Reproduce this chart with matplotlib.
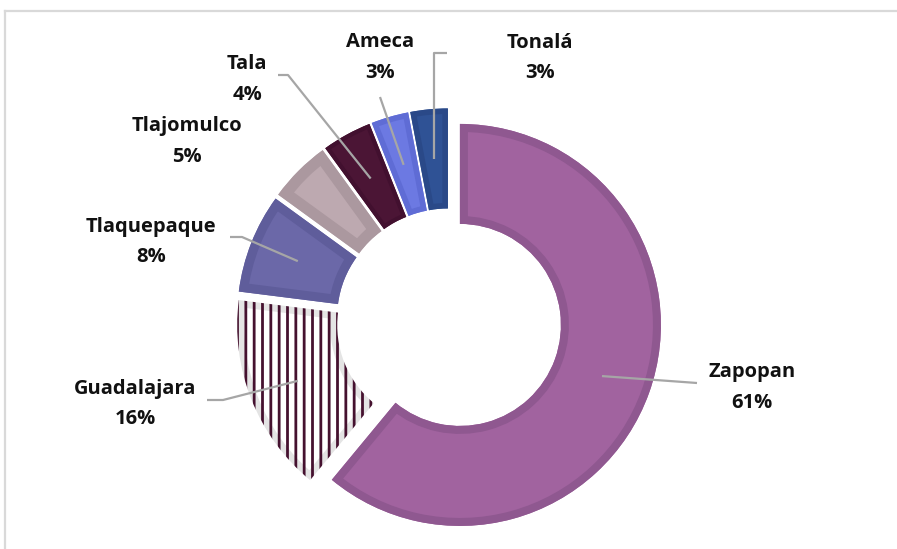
import matplotlib
matplotlib.use("Agg")
import matplotlib.pyplot as plt
from matplotlib.patches import Wedge
import numpy as np

# Share of each municipality (percent), clockwise from twelve o'clock
municipios = ["Zapopan", "Guadalajara", "Tlaquepaque", "Tlajomulco", "Tala", "Ameca", "Tonalá"]
porcentajes = [61, 16, 8, 5, 4, 3, 3]

# Fill and (darker) rim colour for every slice
relleno = ["#A1639F", "#FFFFFF", "#6B68A8", "#BDA9B0", "#4B1535", "#6C79E2", "#2F5295"]
borde = ["#8F5890", "#E4E4E4", "#5F5D9B", "#AB989F", "#42102F", "#5F6CD5", "#2A4988"]
rim_pt = [11.5, 10.0, 13.0, 16.0, 6.0, 8.0, 8.0]

# Label anchors (pixel x, baseline y of the name)
etiqueta_xy = [(752, 377), (135, 394), (151, 232), (187, 131), (247, 69), (380, 47), (540, 48)]

W, H = 897, 549
plt.rcParams["hatch.linewidth"] = 2.0
plt.rcParams["font.family"] = ["Open Sans", "DejaVu Sans"]

fig = plt.figure(figsize=(W / 100, H / 100), dpi=100)
ax = fig.add_axes([0, 0, 1, 1])

centro = (449, H - 321)
R = 201
ancho = 100
separacion = 11.6

wedges, _ = ax.pie(
    porcentajes, radius=R, center=centro, startangle=90, counterclock=False,
    explode=[separacion] * len(porcentajes), colors=relleno,
    wedgeprops=dict(width=ancho, linewidth=0),
)

for w, c_borde, lw, nombre in zip(wedges, borde, rim_pt, municipios):
    rim = Wedge(w.center, w.r, w.theta1, w.theta2, width=w.width,
                facecolor="none", edgecolor=c_borde, linewidth=lw, zorder=3)
    ax.add_patch(rim)
    rim.set_clip_path(w)
    if nombre == "Guadalajara":
        rayas = Wedge(w.center, w.r, w.theta1, w.theta2, width=w.width,
                      facecolor="none", edgecolor="#45112F", linewidth=0,
                      hatch="||", zorder=4)
        ax.add_patch(rayas)

ax.set_xlim(0, W)
ax.set_ylim(0, H)
ax.set_aspect("equal")
ax.axis("off")

# Leader lines from the middle of each ring segment to its label
gris = "#A6A6A6"
r_med = R - ancho / 2


def punto_medio(w):
    ang = np.deg2rad((w.theta1 + w.theta2) / 2)
    return (w.center[0] + r_med * np.cos(ang), w.center[1] + r_med * np.sin(ang))


guias = {
    "Zapopan": [(697, 383)],
    "Guadalajara": [(223, 400), (207, 400)],
    "Tlaquepaque": [(242, 237), (230, 237)],
    "Tala": [(288, 75), (278, 75)],
    "Ameca": [(380, 97)],
}
for w, nombre in zip(wedges, municipios):
    x0, y0 = punto_medio(w)
    if nombre == "Tonalá":
        pts = [(x0, y0), (x0, H - 53), (x0 + 13, H - 53)]
    elif nombre in guias:
        pts = [(x0, y0)] + [(px, H - py) for px, py in guias[nombre]]
    else:
        continue
    xs, ys = zip(*pts)
    ax.plot(xs, ys, color=gris, lw=1.6, solid_capstyle="butt", zorder=5)

# Labels: name and percentage
for nombre, pct, (lx, ly) in zip(municipios, porcentajes, etiqueta_xy):
    ax.text(lx, H - ly, nombre, ha="center", va="baseline", fontsize=14.5,
            fontweight="bold", color="#111111", zorder=6)
    ax.text(lx, H - ly - 30.5, f"{pct}%", ha="center", va="baseline",
            fontsize=14.5, fontweight="bold", color="#111111", zorder=6)

# Light frame along the top and left of the chart area
ax.plot([5, W], [H - 11, H - 11], color="#D9D9D9", lw=1.6, zorder=1)
ax.plot([5, 5], [H - 11, 0], color="#D9D9D9", lw=1.6, zorder=1)

fig.savefig("out.png", dpi=100)
